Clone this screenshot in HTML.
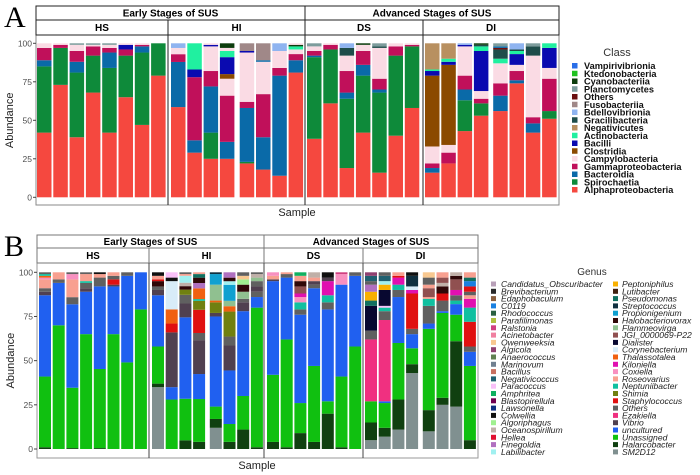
<!DOCTYPE html>
<html><head><meta charset="utf-8"><style>
body{margin:0;background:#fff}
svg{display:block;font-family:"Liberation Sans","DejaVu Sans",sans-serif}
</style></head><body>
<svg id="chart" width="700" height="475" viewBox="0 0 700 475">
<text x="4" y="27" font-family="Liberation Serif,serif" font-size="30">A</text>
<text x="4" y="256" font-family="Liberation Serif,serif" font-size="30">B</text>
<g id="ga"></g><g id="gb"></g>
</svg>
<script>
// ---- Panel A data ----
const classNames=["Vampirivibrionia","Ktedonobacteria","Cyanobacteriia","Planctomycetes","Others","Fusobacteriia","Bdellovibrionia","Gracilibacteria","Negativicutes","Actinobacteria","Bacilli","Clostridia","Campylobacteria","Gammaproteobacteria","Bacteroidia","Spirochaetia","Alphaproteobacteria"];
const classColors=["#2a6ee8","#1fc21f","#0d3d0d","#7d9c9c","#6b0f0f","#a08888","#8fb4f0","#1e4d4a","#b89060","#20f0a0","#0a0ab0","#8b4a00","#fadbe4","#c0105a","#0a6aa8","#0e8a3a","#f5483f"];
const groupsA=["HS","HI","DS","DI"];
const barsA_HS=[
[["Alphaproteobacteria",42],["Spirochaetia",43],["Bacteroidia",4],["Gammaproteobacteria",8],["Campylobacteria",3]],
[["Alphaproteobacteria",73],["Spirochaetia",24],["Gammaproteobacteria",2],["Campylobacteria",1]],
[["Alphaproteobacteria",39],["Spirochaetia",42],["Bacteroidia",7],["Gammaproteobacteria",7],["Campylobacteria",4],["Planctomycetes",1]],
[["Alphaproteobacteria",68],["Spirochaetia",24],["Gammaproteobacteria",6],["Campylobacteria",1],["Planctomycetes",1]],
[["Alphaproteobacteria",42],["Spirochaetia",42],["Bacteroidia",10],["Gammaproteobacteria",3],["Campylobacteria",2],["Planctomycetes",1]],
[["Alphaproteobacteria",65],["Spirochaetia",27],["Gammaproteobacteria",4],["Bacilli",3],["Campylobacteria",1]],
[["Alphaproteobacteria",47],["Spirochaetia",47],["Bacteroidia",4],["Gammaproteobacteria",1],["Campylobacteria",1]],
[["Alphaproteobacteria",79],["Spirochaetia",21]]];
const barsA_HI=[
[["Alphaproteobacteria",58],["Bacteroidia",29],["Gammaproteobacteria",5],["Campylobacteria",4],["Bdellovibrionia",3]],
[["Alphaproteobacteria",29],["Bacteroidia",8],["Gammaproteobacteria",41],["Bacilli",5],["Actinobacteria",17]],
[["Alphaproteobacteria",25],["Spirochaetia",17],["Bacteroidia",30],["Gammaproteobacteria",10],["Campylobacteria",16],["Bacilli",1],["Campylobacteria",1]],
[["Alphaproteobacteria",25],["Bacteroidia",11],["Gammaproteobacteria",30],["Campylobacteria",11],["Clostridia",3],["Bacilli",11],["Actinobacteria",4],["Campylobacteria",2],["Cyanobacteriia",3]],
[["Alphaproteobacteria",22],["Spirochaetia",1],["Bacteroidia",35],["Gammaproteobacteria",4],["Campylobacteria",32],["Bacilli",1],["Fusobacteriia",5]],
[["Alphaproteobacteria",18],["Bacteroidia",21],["Gammaproteobacteria",28],["Campylobacteria",21],["Bacteroidia",1],["Fusobacteriia",11]],
[["Alphaproteobacteria",14],["Bacteroidia",65],["Gammaproteobacteria",5],["Campylobacteria",11],["Bdellovibrionia",5]],
[["Alphaproteobacteria",81],["Bacteroidia",8],["Gammaproteobacteria",4],["Campylobacteria",3],["Actinobacteria",2],["Cyanobacteriia",1],["Campylobacteria",1]]];
const barsA_DS=[
[["Alphaproteobacteria",38],["Spirochaetia",53],["Bacteroidia",1],["Gammaproteobacteria",3],["Campylobacteria",3],["Planctomycetes",2]],
[["Alphaproteobacteria",61],["Spirochaetia",35],["Gammaproteobacteria",3],["Campylobacteria",1]],
[["Alphaproteobacteria",19],["Spirochaetia",45],["Bacteroidia",4],["Gammaproteobacteria",14],["Campylobacteria",10],["Gracilibacteria",5],["Bdellovibrionia",3]],
[["Alphaproteobacteria",42],["Spirochaetia",37],["Bacteroidia",7],["Gammaproteobacteria",9],["Campylobacteria",4],["Cyanobacteriia",1]],
[["Alphaproteobacteria",16],["Spirochaetia",52],["Bacteroidia",2],["Gammaproteobacteria",7],["Campylobacteria",20],["Gracilibacteria",1],["Planctomycetes",2]],
[["Alphaproteobacteria",40],["Spirochaetia",52],["Gammaproteobacteria",6],["Campylobacteria",2]],
[["Alphaproteobacteria",58],["Spirochaetia",40],["Gammaproteobacteria",1],["Campylobacteria",1]]];
const barsA_DI=[
[["Alphaproteobacteria",16],["Bacteroidia",3],["Gammaproteobacteria",3],["Campylobacteria",11],["Clostridia",46],["Bacilli",3],["Actinobacteria",1],["Negativicutes",17]],
[["Alphaproteobacteria",22],["Gammaproteobacteria",7],["Campylobacteria",5],["Clostridia",52],["Bacilli",2],["Actinobacteria",2],["Negativicutes",10]],
[["Alphaproteobacteria",43],["Spirochaetia",20],["Bacteroidia",7],["Gammaproteobacteria",9],["Campylobacteria",19],["Bacilli",1],["Bdellovibrionia",1]],
[["Alphaproteobacteria",53],["Spirochaetia",8],["Gammaproteobacteria",3],["Campylobacteria",5],["Bacilli",26],["Actinobacteria",3],["Gracilibacteria",1],["Cyanobacteriia",1]],
[["Alphaproteobacteria",56],["Bacteroidia",10],["Gammaproteobacteria",8],["Campylobacteria",13],["Actinobacteria",3],["Gracilibacteria",6],["Others",1],["Bacteroidia",1],["Planctomycetes",2]],
[["Alphaproteobacteria",74],["Bacteroidia",2],["Gammaproteobacteria",6],["Campylobacteria",4],["Bacilli",7],["Actinobacteria",2],["Gracilibacteria",1],["Bdellovibrionia",4]],
[["Alphaproteobacteria",42],["Bacteroidia",6],["Gammaproteobacteria",4],["Campylobacteria",40],["Gracilibacteria",6],["Planctomycetes",2]],
[["Alphaproteobacteria",51],["Spirochaetia",5],["Gammaproteobacteria",21],["Campylobacteria",7],["Bacilli",13],["Actinobacteria",3]]];

// ---- Panel B data ----
const genusNames=["Candidatus_Obscuribacter","Brevibacterium","Edaphobaculum","C0119","Rhodococcus","Parafilimonas","Ralstonia","Acinetobacter","Owenweeksia","Algicola","Anaerococcus","Marinovum","Bacillus","Negativicoccus","Paracoccus","Amphritea","Blastopirellula","Lawsonella","Colwellia","Algoriphagus","Oceanospirillum","Hellea","Finegoldia","Labilibacter","Peptoniphilus","Lutibacter","Pseudomonas","Streptococcus","Propionigenium","Halobacteriovorax","Flammeovirga","JGI_0000069-P22","Dialister","Corynebacterium","Thalassotalea","Kiloniella","Coxiella","Roseovarius","Neptuniibacter","Shimia","Staphylococcus","Others","Ezakiella","Vibrio","uncultured","Unassigned","Halarcobacter","SM2D12"];
const genusColors=["#b8a0b8","#2a2a2a","#8a6040","#1a80e0","#2a6040","#b0c040","#d04080","#f080a0","#f8c890","#904070","#608050","#708090","#c87060","#206070","#f8c0f8","#10b060","#700050","#103080","#101010","#a0f090","#c0b0a8","#e01030","#b070c0","#a0f0f0","#f8b000","#402010","#107060","#103040","#10a0d0","#300808","#90c090","#905050","#080830","#d8ecf8","#f06010","#e010b0","#f890c0","#f8a090","#10c0a0","#708010","#e01010","#606060","#f03080","#504050","#2060f0","#10c010","#104010","#809090"];
const barsB_HS=[
[["Halarcobacter",1],["Unassigned",40],["uncultured",46],["Vibrio",2],["Others",2],["Roseovarius",5],["Coxiella",1],["Thalassotalea",1],["Neptuniibacter",1],["Others",1]],
[["Unassigned",70],["uncultured",24],["Others",2],["Roseovarius",4]],
[["Halarcobacter",0.5],["Unassigned",34],["uncultured",47],["Others",4],["Roseovarius",10],["Coxiella",3],["Others",1]],
[["Unassigned",65],["uncultured",24],["Vibrio",2],["Others",3],["Neptuniibacter",1],["Roseovarius",4],["Others",1]],
[["Halarcobacter",0.5],["Unassigned",45],["uncultured",47],["Others",5],["Roseovarius",2],["Colwellia",1]],
[["Unassigned",65],["uncultured",27],["Vibrio",1],["Staphylococcus",3],["Others",2],["Roseovarius",2]],
[["Unassigned",49],["uncultured",49],["Others",2]],
[["Unassigned",79],["uncultured",21]]];
const barsB_HI=[
[["SM2D12",35],["Halarcobacter",2],["Unassigned",21],["uncultured",29],["Vibrio",3],["Others",2],["Halobacteriovorax",3],["Staphylococcus",1],["Roseovarius",2],["Colwellia",2]],
[["Unassigned",28],["uncultured",7],["Vibrio",31],["Staphylococcus",5],["Thalassotalea",8],["Corynebacterium",16],["Colwellia",2],["Paracoccus",3]],
[["Halarcobacter",5],["Unassigned",24],["uncultured",47],["Vibrio",8],["Others",5],["Shimia",3],["Halobacteriovorax",2],["Oceanospirillum",2],["Labilibacter",4],["Roseovarius",1],["Others",1]],
[["Halarcobacter",4],["Unassigned",24],["uncultured",14],["Vibrio",19],["Others",4],["Staphylococcus",13],["Shimia",5],["Neptuniibacter",1],["Thalassotalea",6],["Finegoldia",3],["Halobacteriovorax",3],["Pseudomonas",2],["Roseovarius",1]],
[["SM2D12",12],["Halarcobacter",5],["Unassigned",7],["uncultured",51],["Vibrio",2],["Shimia",6],["Thalassotalea",1],["Flammeovirga",9],["Propionigenium",6],["Streptococcus",1]],
[["Halarcobacter",4],["Unassigned",10],["uncultured",30],["Vibrio",14],["Others",5],["Shimia",14],["Thalassotalea",3],["Flammeovirga",3],["Propionigenium",9],["Labilibacter",2],["Halobacteriovorax",2],["Finegoldia",3]],
[["Halarcobacter",11],["Unassigned",19],["uncultured",48],["Vibrio",5],["Others",2],["Flammeovirga",4],["Halobacteriovorax",4],["Algoriphagus",3],["Owenweeksia",2],["Others",2]],
[["Halarcobacter",1],["Unassigned",79],["uncultured",6],["Others",3],["Vibrio",3],["Others",3],["Flammeovirga",2],["Oceanospirillum",2],["Others",1]]];
const barsB_DS=[
[["Halarcobacter",4],["Unassigned",38],["uncultured",53],["Vibrio",1],["Roseovarius",2],["Coxiella",2]],
[["Halarcobacter",1],["Unassigned",61],["uncultured",35],["Others",2],["Roseovarius",1]],
[["Halarcobacter",9],["Unassigned",17],["uncultured",50],["Others",3],["Neptuniibacter",4],["Coxiella",3],["Kiloniella",2],["JGI_0000069-P22",4],["Halobacteriovorax",3],["Roseovarius",3],["Amphritea",2]],
[["Halarcobacter",4],["Unassigned",43],["uncultured",44],["Others",2],["Vibrio",2],["Roseovarius",2],["Oceanospirillum",3]],
[["Halarcobacter",20],["Unassigned",7],["uncultured",52],["Others",4],["Neptuniibacter",4],["Kiloniella",8],["Vibrio",2],["Colwellia",3]],
[["Halarcobacter",1],["Unassigned",40],["uncultured",52],["Coxiella",6],["Ralstonia",1]],
[["Unassigned",58],["uncultured",40],["Others",2]]];
const barsB_DI=[
[["SM2D12",5],["Halarcobacter",10],["Unassigned",12],["Ezakiella",35],["Others",5],["Dialister",14],["Pseudomonas",3],["Peptoniphilus",5],["Finegoldia",4],["Others",2],["Negativicoccus",3],["Algicola",2]],
[["SM2D12",7],["Halarcobacter",5],["Unassigned",14],["uncultured",1],["Ezakiella",46],["Others",5],["Neptuniibacter",2],["Paracoccus",1],["Dialister",9],["Peptoniphilus",3],["Labilibacter",2],["Negativicoccus",3],["Others",2]],
[["SM2D12",11],["Halarcobacter",17],["Unassigned",32],["uncultured",26],["Others",4],["Neptuniibacter",3],["Kiloniella",4],["Staphylococcus",1],["Roseovarius",2]],
[["SM2D12",43],["Halarcobacter",5],["Unassigned",9],["uncultured",8],["Others",3],["Staphylococcus",20],["Kiloniella",2],["Corynebacterium",2],["Streptococcus",6],["Colwellia",2]],
[["SM2D12",10],["Halarcobacter",12],["Unassigned",46],["uncultured",3],["Others",10],["Neptuniibacter",4],["Roseovarius",1],["JGI_0000069-P22",5],["Roseovarius",2],["Others",4],["Owenweeksia",3]],
[["SM2D12",25],["Halarcobacter",4],["Unassigned",48],["uncultured",1],["Others",6],["Staphylococcus",4],["Halobacteriovorax",4],["Oceanospirillum",2],["JGI_0000069-P22",3],["Roseovarius",3]],
[["SM2D12",24],["Halarcobacter",37],["Unassigned",15],["uncultured",6],["Neptuniibacter",2],["Others",3],["Kiloniella",3],["JGI_0000069-P22",6],["Halobacteriovorax",2],["Oceanospirillum",2]],
[["Halarcobacter",5],["Unassigned",42],["uncultured",8],["Others",3],["Staphylococcus",14],["Neptuniibacter",8],["Kiloniella",5],["Roseovarius",2],["Others",2],["Staphylococcus",3],["C0119",3],["Pseudomonas",2],["Roseovarius",3]]];
const yTicks=[0,25,50,75,100];

const NS="http://www.w3.org/2000/svg";
function mk(parent,tag,attrs,text){const e=document.createElementNS(NS,tag);for(const k in attrs)e.setAttribute(k,attrs[k]);if(text!==undefined)e.textContent=text;parent.appendChild(e);return e;}

function drawPanel(g,cfg){
  const y=v=>cfg.y0-(cfg.y0-cfg.y100)*v/100;
  const fr=mk(g,'rect',{x:cfg.facets[0][0],y:cfg.top,width:cfg.facets[3][1]-cfg.facets[0][0],height:cfg.bottom-cfg.top,fill:'#fff',stroke:cfg.frame,'stroke-width':1});
  
  
  const tops=[["Early Stages of SUS",cfg.facets[0][0],cfg.facets[1][1]],["Advanced Stages of SUS",cfg.facets[2][0],cfg.facets[3][1]]];
  tops.forEach(t=>{
    const r=mk(g,'rect',{x:t[1],y:cfg.s1,width:t[2]-t[1],height:cfg.s2-cfg.s1,fill:'#fff',stroke:cfg.stripStroke,'stroke-width':1});
    
    
    const tx=mk(g,'text',{x:(t[1]+t[2])/2,y:(cfg.s1+cfg.s2)/2+3.6,'text-anchor':'middle','font-weight':'bold','font-size':cfg.stripFs},t[0]);
    
    
  });
  cfg.groups.forEach((gname,fi)=>{
    const f=cfg.facets[fi];
    const r=mk(g,'rect',{x:f[0],y:cfg.s2,width:f[1]-f[0],height:cfg.top-cfg.s2,fill:'#fff',stroke:cfg.stripStroke,'stroke-width':1});
    
    
    const tx=mk(g,'text',{x:(f[0]+f[1])/2,y:(cfg.s2+cfg.top)/2+3.6,'text-anchor':'middle','font-weight':'bold','font-size':cfg.stripFs},gname);
    
    
    const bars=cfg.bars[fi];
    bars.forEach((segs,i)=>{
      const x=cfg.starts[fi]+i*cfg.pitch+(cfg.gaps[fi]&&i>=4?cfg.gaps[fi]:0);
      const total=segs.reduce((s,d)=>s+d[1],0);
      let cum=0;
      segs.forEach(d=>{
        const v=d[1]/total*100;
        const yt=y(cum+v),yb=y(cum);
        const rc=mk(g,'rect',{x:x,y:yt,width:cfg.bw,height:Math.max(0,yb-yt),fill:cfg.colors[cfg.names.indexOf(d[0])]});
        
        
        cum+=v;
      });
    });
    if(fi>0){const l=mk(g,'line',{x1:f[0],x2:f[0],y1:cfg.top,y2:cfg.bottom,stroke:cfg.divider,'stroke-width':1});
      
      }
  });
  yTicks.forEach(t=>{
    const tl=mk(g,'line',{x1:cfg.facets[0][0]-3,x2:cfg.facets[0][0],y1:y(t),y2:y(t),stroke:'#444'});
    
    
    const tx=mk(g,'text',{x:cfg.facets[0][0]-4,y:y(t)+3,'text-anchor':'end','font-size':8.5,fill:'#4d4d4d'},t);
    
    
  });
  const yl=mk(g,'text',{x:0,y:0,transform:`translate(${cfg.ylx},${(cfg.y0+cfg.y100)/2}) rotate(-90)`,'text-anchor':'middle','font-size':11,fill:'#222'},'Abundance');
  
  
  const xl=mk(g,'text',{x:cfg.xlx,y:cfg.xly,'text-anchor':'middle','font-size':11,fill:'#222'},'Sample');
  
  
}

drawPanel(document.getElementById('ga'),{names:classNames,colors:classColors,groups:groupsA,bars:[barsA_HS,barsA_HI,barsA_DS,barsA_DI],
 facets:[[36,168],[168,305],[305,423],[423,559]],s1:6,s2:20,top:35,bottom:205,y0:197.3,y100:43.3,
 starts:[37,171,307,425],pitch:16.3,bw:14.5,gaps:[0,3.5,0,3],frame:'#888',stripStroke:'#222',divider:'#222',stripFs:10,ylx:13,xlx:297,xly:216});
drawPanel(document.getElementById('gb'),{names:genusNames,colors:genusColors,groups:groupsA,bars:[barsB_HS,barsB_HI,barsB_DS,barsB_DI],
 facets:[[37,149],[149,264],[264,363],[363,478]],s1:235,s2:248,top:263,bottom:458,y0:449,y100:272.3,
 starts:[39,152,267,365],pitch:13.7,bw:12,gaps:[0,3,0,3],frame:'#999',stripStroke:'#777',divider:'#444',stripFs:9.8,ylx:14,xlx:257,xly:469});

const svg=document.getElementById('chart');
const lt=mk(svg,'text',{x:617,y:56,'text-anchor':'middle','font-size':11,fill:'#333'},'Class');


classNames.forEach((n,i)=>{
  const yy=66+i*7.75;
  const r=mk(svg,'rect',{x:572,y:yy-3,width:5.5,height:5.5,fill:classColors[i]});
  
  
  const t=mk(svg,'text',{x:584,y:yy+3,'font-size':9.2,'font-weight':'bold',fill:'#111'},n);
  
  
});
const lt2=mk(svg,'text',{x:592,y:275,'text-anchor':'middle','font-size':10,fill:'#333'},'Genus');


genusNames.forEach((n,i)=>{
  const col=i<24?0:1, row=i%24;
  const yy=284+row*7.3;
  const sx=col?613:491, tx=col?622:501;
  const r=mk(svg,'rect',{x:sx,y:yy-2.5,width:5,height:5,fill:genusColors[i]});
  
  
  const t=mk(svg,'text',{x:tx,y:yy+3,'font-size':8.6,'font-style':'italic',fill:'#222'},n);
  
  
});
</script>
</body></html>
